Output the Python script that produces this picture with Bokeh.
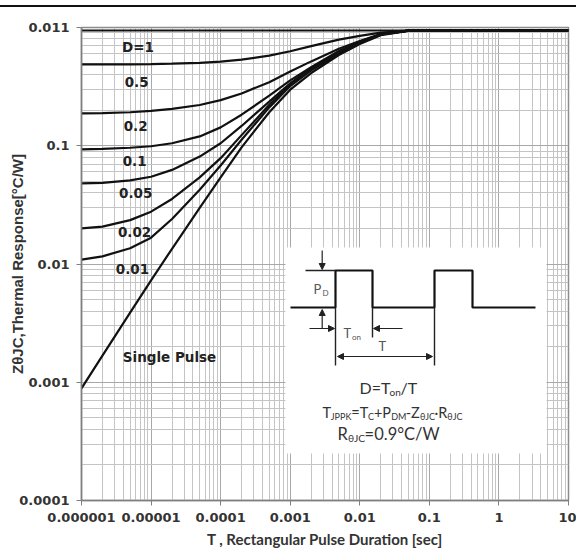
import math
from bokeh.plotting import figure
from bokeh.models import (Range1d, LinearScale, FixedTicker, CustomJSTickFormatter,
                          Label, Arrow, NormalHead, InlineStyleSheet)
from bokeh.core.properties import value
from bokeh.embed import file_html
from bokeh.resources import INLINE

# ---------------- data ----------------
t_sec = [1e-6, 2e-6, 5e-6, 1e-5, 2e-5, 5e-5, 1e-4, 2e-4, 5e-4,
         1e-3, 2e-3, 5e-3, 1e-2, 2e-2, 5e-2, 1e-1, 1, 10]

z_d100 = [0.943] * 18
z_d050 = [0.487, 0.487, 0.488, 0.490, 0.494, 0.503, 0.515, 0.535, 0.578,
          0.630, 0.695, 0.790, 0.850, 0.905, 0.940, 0.943, 0.943, 0.943]
z_d020 = [0.1875, 0.189, 0.192, 0.197, 0.205, 0.221, 0.243, 0.277, 0.345,
          0.425, 0.517, 0.660, 0.770, 0.880, 0.940, 0.943, 0.943, 0.943]
z_d010 = [0.0931, 0.0942, 0.0962, 0.0990, 0.1050, 0.120, 0.143, 0.183, 0.265,
          0.357, 0.462, 0.634, 0.760, 0.878, 0.940, 0.943, 0.943, 0.943]
z_d005 = [0.0480, 0.0486, 0.0510, 0.0547, 0.0625, 0.0810, 0.1050, 0.147, 0.236,
          0.337, 0.457, 0.622, 0.751, 0.874, 0.940, 0.943, 0.943, 0.943]
z_d002 = [0.0200, 0.0207, 0.0235, 0.0277, 0.0355, 0.0540, 0.0785, 0.123, 0.222,
          0.330, 0.449, 0.611, 0.742, 0.872, 0.940, 0.943, 0.943, 0.943]
z_d001 = [0.0109, 0.0116, 0.0136, 0.0167, 0.0240, 0.0425, 0.0680, 0.1125, 0.211,
          0.320, 0.435, 0.599, 0.735, 0.870, 0.940, 0.943, 0.943, 0.943]
z_single = [0.000888, 0.00168, 0.00388, 0.00728, 0.01345, 0.0298, 0.0540, 0.0970, 0.192,
            0.298, 0.412, 0.585, 0.725, 0.862, 0.935, 0.943, 0.943, 0.943]

series = [z_d100, z_d050, z_d020, z_d010, z_d005, z_d002, z_d001, z_single]
curve_labels = ["D=1", "0.5", "0.2", "0.1", "0.05", "0.02", "0.01", "Single Pulse"]

x_ticks = [1e-6, 1e-5, 1e-4, 1e-3, 1e-2, 1e-1, 1, 10]
x_tick_labels = ["0.000001", "0.00001", "0.0001", "0.001", "0.01", "0.1", "1", "10"]
y_ticks = [1e-4, 1e-3, 1e-2, 1e-1, 1]
y_tick_labels = ["0.0001", "0.001", "0.01", "0.1", "0.011"]

# label anchor positions (annotation layout)
label_x = [6.5e-6, 6.2e-6, 6.0e-6, 5.8e-6, 6.0e-6, 5.8e-6, 5.4e-6, 1.84e-5]
label_y = [0.684, 0.343, 0.148, 0.0737, 0.0395, 0.0185, 0.0090, 0.00162]

# ---------------- figure ----------------
top_rule = InlineStyleSheet(css="""
:host::after { content: ""; position: absolute; left: 0; right: 0; top: 5px;
               height: 2px; background: #111; z-index: 100; pointer-events: none; }
""")

p = figure(x_axis_type="log", y_axis_type="log",
           x_range=Range1d(1e-6, 10), y_range=Range1d(1e-4, 1),
           frame_width=487, frame_height=473,
           min_border_left=81, min_border_right=8, min_border_top=27, min_border_bottom=53,
           output_backend="svg", toolbar_location=None,
           background_fill_color="white", border_fill_color="white",
           stylesheets=[top_rule])

# screen-like coordinate system for the inset drawing
p.extra_x_ranges = {"sx": Range1d(81, 568)}
p.extra_y_ranges = {"sy": Range1d(500, 27)}
p.extra_x_scales = {"sx": LinearScale()}
p.extra_y_scales = {"sy": LinearScale()}

x_minor = [m * 10.0 ** e for e in range(-6, 1) for m in range(2, 10)]
y_minor = [m * 10.0 ** e for e in range(-4, 0) for m in range(2, 10)]
p.xaxis.ticker = FixedTicker(ticks=x_ticks, minor_ticks=x_minor)
p.yaxis.ticker = FixedTicker(ticks=y_ticks, minor_ticks=y_minor)

fmt_code = """
const k = vals.findIndex(v => Math.abs(Math.log10(v) - Math.log10(tick)) < 1e-6);
return k >= 0 ? labs[k] : "";
"""
p.xaxis.formatter = CustomJSTickFormatter(args=dict(vals=x_ticks, labs=x_tick_labels), code=fmt_code)
p.yaxis.formatter = CustomJSTickFormatter(args=dict(vals=y_ticks, labs=y_tick_labels), code=fmt_code)

for ax in (p.xaxis, p.yaxis):
    ax.axis_line_color = "#7f7f7f"
    ax.axis_line_width = 1.5
    ax.major_tick_line_color = "#7f7f7f"
    ax.major_tick_out = 5
    ax.major_tick_in = 0
    ax.minor_tick_line_color = None
    ax.major_label_text_font = "DejaVu Sans"
    ax.major_label_text_font_style = "bold"
    ax.major_label_text_font_size = "13px"
    ax.major_label_text_color = "#333333"
    ax.major_label_standoff = 7

p.xaxis.axis_label = "T , Rectangular Pulse Duration [sec]"
p.xaxis.axis_label_text_font = "Lato"
p.xaxis.axis_label_text_font_style = "bold"
p.xaxis.axis_label_text_font_size = "15px"
p.xaxis.axis_label_text_color = "#333333"
p.xaxis.axis_label_standoff = 5

p.yaxis.axis_label = "ZθJC,Thermal Response[°C/W]"
p.yaxis.axis_label_text_font = "Liberation Sans"
p.yaxis.axis_label_text_font_style = "bold"
p.yaxis.axis_label_text_font_size = "15px"
p.yaxis.axis_label_text_color = "#333333"
p.yaxis.axis_label_standoff = -10

for g in (p.xgrid, p.ygrid):
    g.grid_line_color = "#a8a8a8"
    g.grid_line_width = 1
    g.minor_grid_line_color = "#c4c4c4"
    g.minor_grid_line_width = 1

p.outline_line_color = "#8c8c8c"
p.outline_line_width = 1.5

# curves
for ys in series:
    p.line(t_sec, ys, line_color="#111111", line_width=2.2)

p.text(x=label_x, y=label_y, text=curve_labels,
       text_font=value("DejaVu Sans"), text_font_style="bold",
       text_font_size="13.5px", text_color="#222222",
       text_align="center", text_baseline="middle")

# ---------------- inset diagram (screen-like coords) ----------------
S = dict(x_range_name="sx", y_range_name="sy")
p.quad(left=[285], right=[546], top=[247], bottom=[453],
       fill_color="white", line_color=None, **S)

p.line([290, 335, 335, 372, 372, 434, 434, 472, 472, 535],
       [307, 307, 270, 270, 307, 307, 270, 270, 307, 307],
       line_color="#111111", line_width=2.2, **S)
p.segment(x0=[305, 335, 372, 434], y0=[270, 307, 307, 307],
          x1=[335, 335, 372, 434], y1=[270, 365, 337, 365],
          line_color="#222222", line_width=1.4, **S)

def arrow(x0, y0, x1, y1, both=False):
    head = lambda: NormalHead(size=6, fill_color="#222222", line_color="#222222")
    a = Arrow(end=head(), start=head() if both else None,
              x_start=x0, y_start=y0, x_end=x1, y_end=y1,
              line_color="#222222", line_width=1.2, **S)
    p.add_layout(a)

arrow(321.7, 250, 321.7, 269)
arrow(321.7, 328, 321.7, 309)
arrow(309, 328, 334, 328)
arrow(402, 328, 373, 328)
arrow(337, 356, 432, 356, both=True)

def seg_text(parts, y, base_size, sub_size, color="#333333", font="Lato"):
    for (x, txt, sub) in parts:
        size = sub_size if sub else base_size
        yy = y + (4 if sub else 0)
        p.add_layout(Label(x=x, y=yy, text=txt, text_font=font,
                           text_font_size=f"{size:.1f}px", text_color=color,
                           text_align="left", text_baseline="middle", **S))

seg_text([(313, "P", False), (322, "D", True)], 288, 13, 8, color="#555555")
seg_text([(343, "T", False), (351.5, "on", True)], 332, 13, 8, color="#555555")
seg_text([(378, "T", False)], 345, 13, 8, color="#555555")

seg_text([(359, "D=T", False), (389, "on", True), (400, "/T", False)], 387, 16, 10)
seg_text([(322, "T", False), (330.3, "JPPK", True), (350.8, "=T", False), (367.5, "C", True),
          (373.4, "+P", False), (390.7, "DM", True), (405.3, "-Z", False), (419.4, "θJC", True),
          (434, "·R", False), (446.8, "θJC", True)], 411.5, 14.5, 9)
seg_text([(337, "R", False), (347.4, "θJC", True), (364.1, "=0.9°C/W", False)], 433.5, 16.5, 10.2)

open("out.html", "w").write(file_html(p, INLINE))
